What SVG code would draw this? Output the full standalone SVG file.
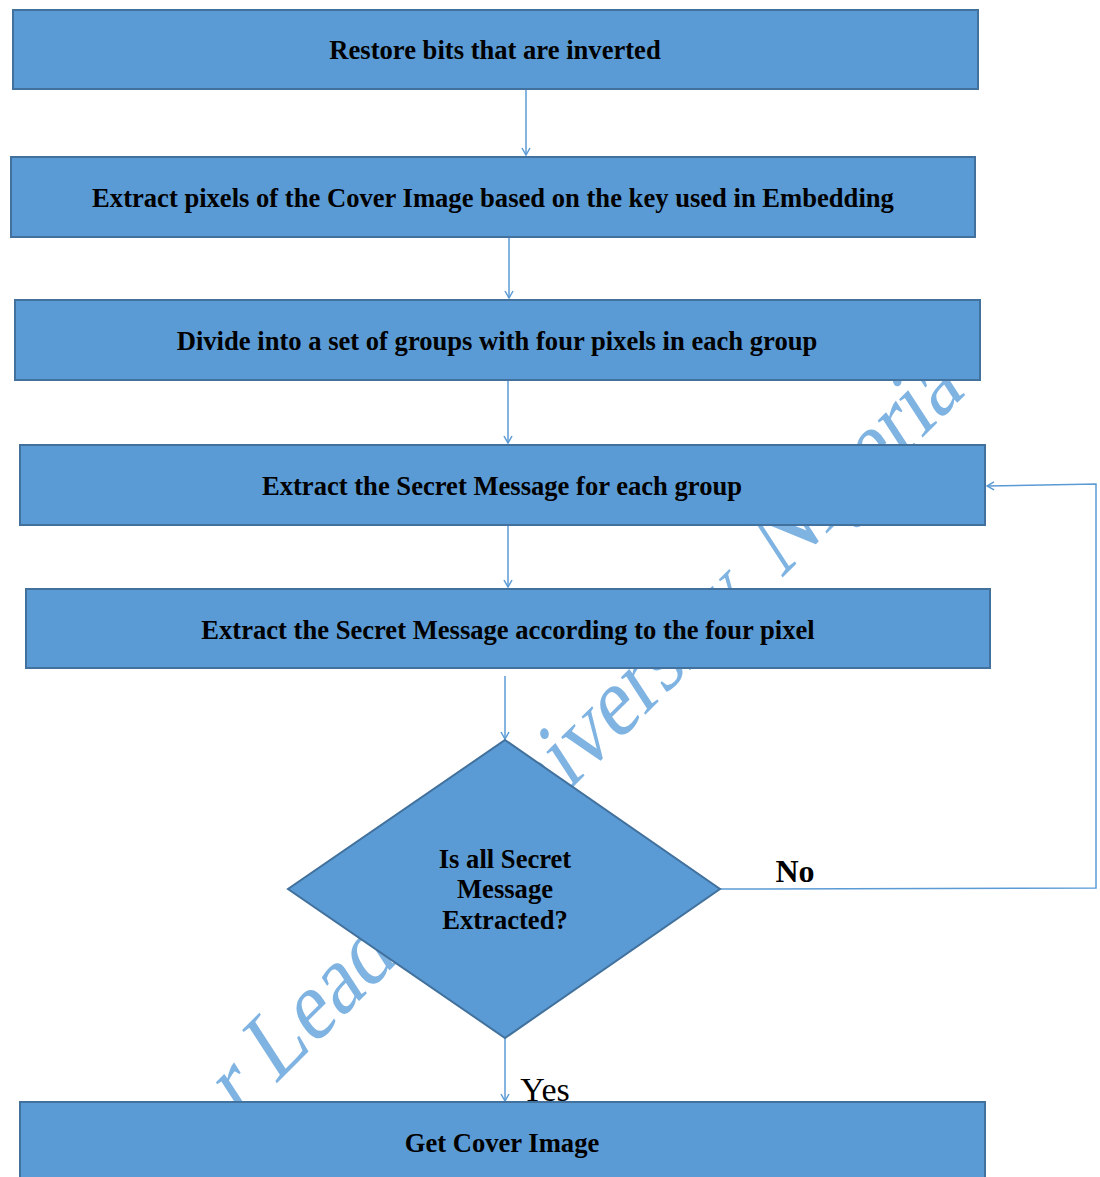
<svg xmlns="http://www.w3.org/2000/svg" width="1100" height="1177" viewBox="0 0 1100 1177">
<style>
.box{fill:#5b9bd5;stroke:#41719c;stroke-width:2}
.lbl{font-family:"Liberation Serif","Times New Roman",serif;font-weight:bold;font-size:26.6px;fill:#000;text-anchor:middle}
.wm{font-family:"Liberation Serif","Times New Roman",serif;font-size:95px;fill:#7fb3e2}
.conn{fill:none;stroke:#5b9bd5;stroke-width:1.5}
</style>
<defs>
<marker id="arr" markerWidth="10" markerHeight="10" refX="9" refY="5" orient="auto" markerUnits="userSpaceOnUse">
<path d="M2,1 L9,5 L2,9" fill="none" stroke="#5b9bd5" stroke-width="1.5"/>
</marker>
</defs>
<rect width="1100" height="1177" fill="#fff"/>
<text class="wm" transform="translate(239,1121) rotate(-45) skewX(-12) scale(0.92,1)">r Leading University, Nigeria</text>
<g id="connectors">
<line class="conn" x1="526" y1="90" x2="526" y2="155" marker-end="url(#arr)"/>
<line class="conn" x1="509" y1="238" x2="509" y2="298" marker-end="url(#arr)"/>
<line class="conn" x1="508" y1="381" x2="508" y2="443" marker-end="url(#arr)"/>
<line class="conn" x1="508" y1="526" x2="508" y2="587" marker-end="url(#arr)"/>
<line class="conn" x1="505" y1="676" x2="505" y2="739" marker-end="url(#arr)"/>
<line class="conn" x1="505" y1="1038" x2="505" y2="1101" marker-end="url(#arr)"/>
<polyline class="conn" points="720,889 1096,888 1096,484 987,486" marker-end="url(#arr)"/>
</g>
<g id="n1"><rect class="box" x="13" y="10" width="965" height="79"/><text class="lbl" x="495" y="59">Restore bits that are inverted</text></g>
<g id="n2"><rect class="box" x="11" y="157" width="964" height="80"/><text class="lbl" x="493" y="207">Extract pixels of the Cover Image based on the key used in Embedding</text></g>
<g id="n3"><rect class="box" x="15" y="300" width="965" height="80"/><text class="lbl" x="497" y="350">Divide into a set of groups with four pixels in each group</text></g>
<g id="n4"><rect class="box" x="20" y="445" width="965" height="80"/><text class="lbl" x="502" y="495">Extract the Secret Message for each group</text></g>
<g id="n5"><rect class="box" x="26" y="589" width="964" height="79"/><text class="lbl" x="508" y="639">Extract the Secret Message according to the four pixel</text></g>
<g id="n6"><polygon class="box" points="505,740 720,889 505,1038 288,889"/>
<text class="lbl" x="505" y="868">Is all Secret</text>
<text class="lbl" x="505" y="898">Message</text>
<text class="lbl" x="505" y="929">Extracted?</text></g>
<g id="n7"><rect class="box" x="20" y="1102" width="965" height="80"/><text class="lbl" x="502" y="1152">Get Cover Image</text></g>
<text x="795" y="882" style="font-family:'Liberation Serif','Times New Roman',serif;font-weight:bold;font-size:32px;text-anchor:middle">No</text>
<text x="545" y="1101" style="font-family:'Liberation Serif','Times New Roman',serif;font-size:34px;text-anchor:middle">Yes</text>
</svg>
